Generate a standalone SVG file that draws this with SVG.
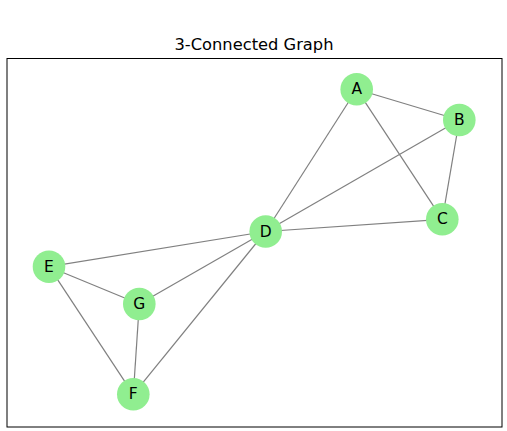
<svg xmlns="http://www.w3.org/2000/svg" width="507" height="431" viewBox="0 0 507 431">
<style>
.edge{stroke:#808080;stroke-width:1.2;fill:none}
.node circle{fill:#90EE90}
.node text{font-family:"DejaVu Sans",sans-serif;font-size:15.5px;fill:#000;text-anchor:middle;dominant-baseline:central}
.title{font-family:"DejaVu Sans",sans-serif;font-size:16.3px;fill:#000;text-anchor:middle}
</style>
<rect x="0" y="0" width="507" height="431" fill="#fff"/>
<text class="title" x="254" y="49.5">3-Connected Graph</text>
<rect x="7" y="58.5" width="495" height="368.5" fill="none" stroke="#000" stroke-width="1"/>
<g id="edges">
<line class="edge" x1="356.7" y1="89.3" x2="459.3" y2="120"/>
<line class="edge" x1="356.7" y1="89.3" x2="442.3" y2="219.3"/>
<line class="edge" x1="356.7" y1="89.3" x2="265.7" y2="231.5"/>
<line class="edge" x1="459.3" y1="120" x2="442.3" y2="219.3"/>
<line class="edge" x1="459.3" y1="120" x2="265.7" y2="231.5"/>
<line class="edge" x1="442.3" y1="219.3" x2="265.7" y2="231.5"/>
<line class="edge" x1="265.7" y1="231.5" x2="49" y2="266.7"/>
<line class="edge" x1="265.7" y1="231.5" x2="139.3" y2="304"/>
<line class="edge" x1="265.7" y1="231.5" x2="133.3" y2="394.3"/>
<line class="edge" x1="49" y1="266.7" x2="139.3" y2="304"/>
<line class="edge" x1="49" y1="266.7" x2="133.3" y2="394.3"/>
<line class="edge" x1="139.3" y1="304" x2="133.3" y2="394.3"/>
</g>
<g id="node-A" class="node"><circle cx="356.7" cy="89.3" r="16.3"/><text x="356.7" y="89.3">A</text></g>
<g id="node-B" class="node"><circle cx="459.3" cy="120" r="16.3"/><text x="459.3" y="120">B</text></g>
<g id="node-C" class="node"><circle cx="442.3" cy="219.3" r="16.3"/><text x="442.3" y="219.3">C</text></g>
<g id="node-D" class="node"><circle cx="265.7" cy="231.5" r="16.3"/><text x="265.7" y="231.5">D</text></g>
<g id="node-E" class="node"><circle cx="49" cy="266.7" r="16.3"/><text x="49" y="266.7">E</text></g>
<g id="node-G" class="node"><circle cx="139.3" cy="304" r="16.3"/><text x="139.3" y="304">G</text></g>
<g id="node-F" class="node"><circle cx="133.3" cy="394.3" r="16.3"/><text x="133.3" y="394.3">F</text></g>
</svg>
